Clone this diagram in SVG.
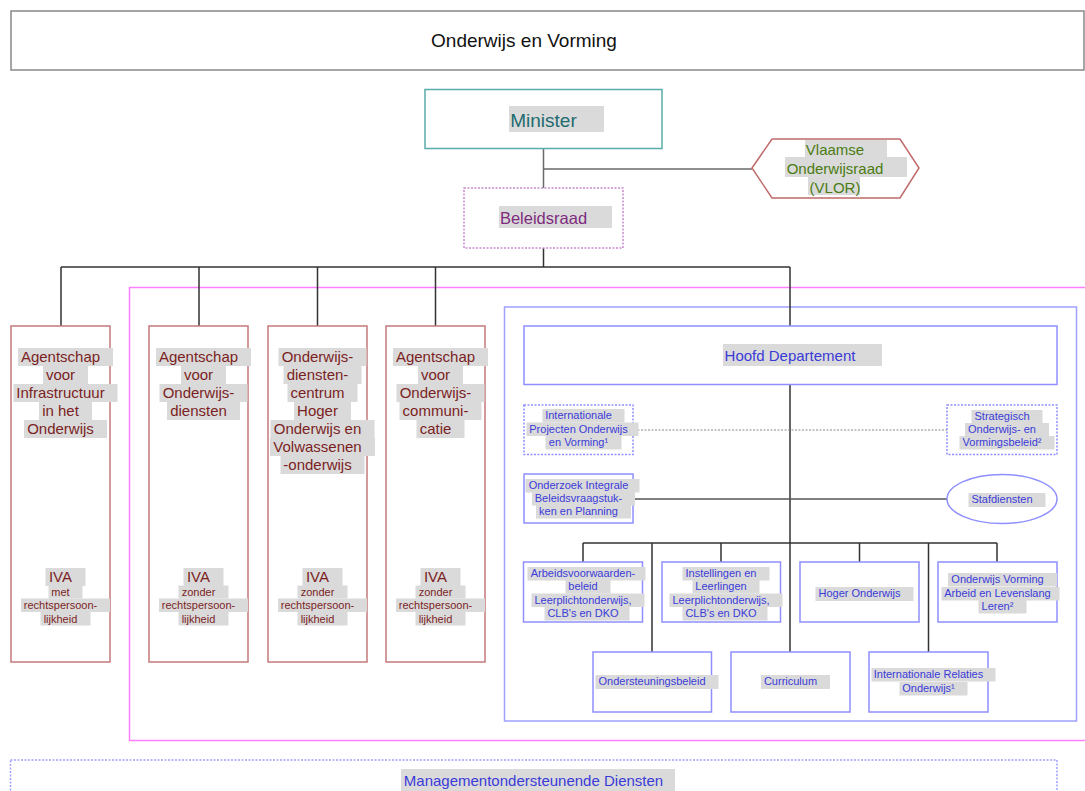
<svg xmlns="http://www.w3.org/2000/svg" width="1085" height="791" viewBox="0 0 1085 791">
<style>
text{font-family:"Liberation Sans",Arial,Helvetica,sans-serif;text-anchor:middle}
.hl{fill:#dadada}
.title{font-size:19px;fill:#111}
.brown{fill:#fff;stroke:#c47a7a;stroke-width:1.5}
.bt{font-size:15px;fill:#7a1f1f}
.bs{font-size:11px;fill:#7a1f1f}
.blue{fill:#fff;stroke:#8f8fff;stroke-width:1.5}
.bluedot{fill:#fff;stroke:#8f8fff;stroke-width:1.5;stroke-dasharray:2 1.5}
.lt{font-size:15px;fill:#3a3ad8}
.st{font-size:11px;fill:#3a3ad8}
.con{fill:none;stroke:#333;stroke-width:1.5}
</style>
<rect width="1085" height="791" fill="#fff"/>

<g id="title">
<rect x="11" y="11" width="1073" height="59" fill="#fff" stroke="#888" stroke-width="1.5"/>
<text class="title" x="524" y="47">Onderwijs en Vorming</text>
</g>

<g id="frames">
<rect x="129.5" y="287.5" width="960" height="453" fill="none" stroke="#ff80ff" stroke-width="1.5"/>
<rect x="504.5" y="307" width="572" height="414" fill="none" stroke="#a0a0ff" stroke-width="1.5"/>
</g>

<g id="connectors">
<path class="con" d="M543.5,149V188M543.5,169H752" stroke="#666" style="stroke:#6a6a6a"/>
<path class="con" d="M543.5,248V267M61,267H790M61,267V326M199,267V326M317.5,267V326M435.5,267V326M790,267V326"/>
<path class="con" d="M790,385V652"/>
<path d="M634,430H947" fill="none" stroke="#888" stroke-width="1.2" stroke-dasharray="2 1.5"/>
<path class="con" d="M634,499H947" style="stroke:#555"/>
<path class="con" d="M583,543H997M583,543V562M652,543V652M721,543V562M859.5,543V562M928.5,543V652M997,543V562"/>
</g>

<g id="minister">
<rect x="425" y="89.5" width="237" height="59" fill="#fff" stroke="#5aabab" stroke-width="1.5"/>
<rect class="hl" x="509" y="106" width="95" height="26"/>
<text x="543.5" y="127" font-size="19" fill="#1e6b6f">Minister</text>
</g>

<g id="vlor">
<polygon points="752,168 772,139 900,139 919,168 900,198 772,198" fill="#fff" stroke="#c06a6a" stroke-width="1.5"/>
<rect class="hl" x="805" y="140" width="82" height="17"/>
<rect class="hl" x="785" y="157" width="122" height="20"/>
<rect class="hl" x="808" y="177" width="52" height="18"/>
<text x="835" y="155" font-size="15" fill="#4a7c12">Vlaamse</text>
<text x="835" y="174" font-size="15" fill="#4a7c12">Onderwijsraad</text>
<text x="835" y="193" font-size="15" fill="#4a7c12">(VLOR)</text>
</g>

<g id="beleidsraad">
<rect x="464" y="188" width="159" height="60" fill="#fff" stroke="#c88ad0" stroke-width="1.5" stroke-dasharray="2 1.5"/>
<rect class="hl" x="499" y="206" width="113" height="22"/>
<text x="543.5" y="224" font-size="16.5" fill="#7e2b7e">Beleidsraad</text>
</g>

<g id="agentschap-infrastructuur">
<rect class="brown" x="11" y="326" width="99" height="336"/>
<rect class="hl" x="18" y="348" width="95" height="18"/>
<rect class="hl" x="43" y="366" width="45" height="18"/>
<rect class="hl" x="13.5" y="384" width="104" height="18"/>
<rect class="hl" x="39" y="402" width="53" height="18"/>
<rect class="hl" x="24" y="420" width="83" height="18"/>
<text class="bt" x="60.5" y="362">Agentschap</text>
<text class="bt" x="60.5" y="380">voor</text>
<text class="bt" x="60.5" y="398">Infrastructuur</text>
<text class="bt" x="60.5" y="416">in het</text>
<text class="bt" x="60.5" y="434">Onderwijs</text>
<rect class="hl" x="45.5" y="568" width="40" height="18"/>
<rect class="hl" x="48.5" y="585.5" width="34" height="13"/>
<rect class="hl" x="21" y="598.5" width="89" height="13.5"/>
<rect class="hl" x="40.5" y="612" width="50" height="13.5"/>
<text class="bt" x="60.5" y="582">IVA</text>
<text class="bs" x="60.5" y="596">met</text>
<text class="bs" x="60.5" y="609">rechtspersoon-</text>
<text class="bs" x="60.5" y="623">lijkheid</text>
</g>

<g id="agentschap-onderwijsdiensten">
<rect class="brown" x="149" y="326" width="99" height="336"/>
<rect class="hl" x="156" y="348" width="95" height="18"/>
<rect class="hl" x="181" y="366" width="45" height="18"/>
<rect class="hl" x="159.5" y="384" width="88" height="18"/>
<rect class="hl" x="167" y="402" width="73" height="18"/>
<text class="bt" x="198.5" y="362">Agentschap</text>
<text class="bt" x="198.5" y="380">voor</text>
<text class="bt" x="198.5" y="398">Onderwijs-</text>
<text class="bt" x="198.5" y="416">diensten</text>
<rect class="hl" x="183.5" y="568" width="40" height="18"/>
<rect class="hl" x="178.5" y="585.5" width="50" height="13"/>
<rect class="hl" x="159" y="598.5" width="89" height="13.5"/>
<rect class="hl" x="178.5" y="612" width="50" height="13.5"/>
<text class="bt" x="198.5" y="582">IVA</text>
<text class="bs" x="198.5" y="596">zonder</text>
<text class="bs" x="198.5" y="609">rechtspersoon-</text>
<text class="bs" x="198.5" y="623">lijkheid</text>
</g>

<g id="onderwijsdienstencentrum">
<rect class="brown" x="268" y="326" width="99" height="336"/>
<rect class="hl" x="278.5" y="348" width="88" height="18"/>
<rect class="hl" x="283.5" y="366" width="78" height="18"/>
<rect class="hl" x="287.5" y="384" width="70" height="18"/>
<rect class="hl" x="294" y="402" width="57" height="18"/>
<rect class="hl" x="270.5" y="420" width="104" height="18"/>
<rect class="hl" x="270" y="438" width="105" height="18"/>
<rect class="hl" x="280.5" y="456" width="84" height="18"/>
<text class="bt" x="317.5" y="362">Onderwijs-</text>
<text class="bt" x="317.5" y="380">diensten-</text>
<text class="bt" x="317.5" y="398">centrum</text>
<text class="bt" x="317.5" y="416">Hoger</text>
<text class="bt" x="317.5" y="434">Onderwijs en</text>
<text class="bt" x="317.5" y="452">Volwassenen</text>
<text class="bt" x="317.5" y="470">-onderwijs</text>
<rect class="hl" x="302.5" y="568" width="40" height="18"/>
<rect class="hl" x="297.5" y="585.5" width="50" height="13"/>
<rect class="hl" x="278" y="598.5" width="89" height="13.5"/>
<rect class="hl" x="297.5" y="612" width="50" height="13.5"/>
<text class="bt" x="317.5" y="582">IVA</text>
<text class="bs" x="317.5" y="596">zonder</text>
<text class="bs" x="317.5" y="609">rechtspersoon-</text>
<text class="bs" x="317.5" y="623">lijkheid</text>
</g>

<g id="agentschap-onderwijscommunicatie">
<rect class="brown" x="386" y="326" width="99" height="336"/>
<rect class="hl" x="393" y="348" width="95" height="18"/>
<rect class="hl" x="418" y="366" width="45" height="18"/>
<rect class="hl" x="396.5" y="384" width="88" height="18"/>
<rect class="hl" x="399.5" y="402" width="82" height="18"/>
<rect class="hl" x="416.5" y="420" width="48" height="18"/>
<text class="bt" x="435.5" y="362">Agentschap</text>
<text class="bt" x="435.5" y="380">voor</text>
<text class="bt" x="435.5" y="398">Onderwijs-</text>
<text class="bt" x="435.5" y="416">communi-</text>
<text class="bt" x="435.5" y="434">catie</text>
<rect class="hl" x="420.5" y="568" width="40" height="18"/>
<rect class="hl" x="415.5" y="585.5" width="50" height="13"/>
<rect class="hl" x="396" y="598.5" width="89" height="13.5"/>
<rect class="hl" x="415.5" y="612" width="50" height="13.5"/>
<text class="bt" x="435.5" y="582">IVA</text>
<text class="bs" x="435.5" y="596">zonder</text>
<text class="bs" x="435.5" y="609">rechtspersoon-</text>
<text class="bs" x="435.5" y="623">lijkheid</text>
</g>

<g id="hoofd-departement">
<rect class="blue" x="524" y="326" width="533" height="58.5"/>
<rect class="hl" x="723" y="344" width="159" height="22"/>
<text class="lt" x="790" y="361">Hoofd Departement</text>
</g>

<g id="internationale-projecten">
<rect class="bluedot" x="524" y="405" width="109" height="49.5"/>
<rect class="hl" x="542.5" y="409" width="82" height="13.5"/>
<rect class="hl" x="526.5" y="422.5" width="112" height="13.5"/>
<rect class="hl" x="545.5" y="436" width="76" height="13.5"/>
<text class="st" x="578.5" y="419">Internationale</text>
<text class="st" x="578.5" y="432.5">Projecten Onderwijs</text>
<text class="st" x="578.5" y="446">en Vorming¹</text>
</g>

<g id="strategisch">
<rect class="bluedot" x="947" y="405" width="110" height="49.5"/>
<rect class="hl" x="971.5" y="410" width="71" height="13.5"/>
<rect class="hl" x="965" y="423" width="84" height="13.5"/>
<rect class="hl" x="959.5" y="436" width="95" height="13.5"/>
<text class="st" x="1002" y="420">Strategisch</text>
<text class="st" x="1002" y="433">Onderwijs- en</text>
<text class="st" x="1002" y="446">Vormingsbeleid²</text>
</g>

<g id="onderzoek">
<rect class="blue" x="524" y="474" width="109" height="49"/>
<rect class="hl" x="525.5" y="479" width="114" height="13.5"/>
<rect class="hl" x="532" y="492" width="103" height="13.5"/>
<rect class="hl" x="536" y="505" width="95" height="13.5"/>
<text class="st" x="578.5" y="489">Onderzoek Integrale</text>
<text class="st" x="578.5" y="502">Beleidsvraagstuk-</text>
<text class="st" x="578.5" y="515">ken en Planning</text>
</g>

<g id="stafdiensten">
<ellipse cx="1002" cy="499" rx="55" ry="24.5" fill="#fff" stroke="#8f8fff" stroke-width="1.5"/>
<rect class="hl" x="968.5" y="493" width="77" height="14"/>
<text class="st" x="1002" y="503">Stafdiensten</text>
</g>

<g id="arbeidsvoorwaarden">
<rect class="blue" x="523.5" y="562" width="119" height="60"/>
<rect class="hl" x="527.5" y="567" width="118" height="13.5"/>
<rect class="hl" x="565.5" y="580" width="45" height="13.5"/>
<rect class="hl" x="531.5" y="593.5" width="113" height="13.5"/>
<rect class="hl" x="544.5" y="607" width="85" height="13.5"/>
<text class="st" x="583" y="577">Arbeidsvoorwaarden-</text>
<text class="st" x="583" y="590">beleid</text>
<text class="st" x="583" y="603.5">Leerplichtonderwijs,</text>
<text class="st" x="583" y="617">CLB's en DKO</text>
</g>

<g id="instellingen">
<rect class="blue" x="662" y="562" width="118.5" height="60"/>
<rect class="hl" x="682.5" y="567" width="87" height="13.5"/>
<rect class="hl" x="692.5" y="580" width="67" height="13.5"/>
<rect class="hl" x="669.5" y="593.5" width="113" height="13.5"/>
<rect class="hl" x="682.5" y="607" width="85" height="13.5"/>
<text class="st" x="721" y="577">Instellingen en</text>
<text class="st" x="721" y="590">Leerlingen</text>
<text class="st" x="721" y="603.5">Leerplichtonderwijs,</text>
<text class="st" x="721" y="617">CLB's en DKO</text>
</g>

<g id="hoger-onderwijs">
<rect class="blue" x="800" y="562" width="119" height="60"/>
<rect class="hl" x="815.5" y="587" width="98" height="14"/>
<text class="st" x="859.5" y="597">Hoger Onderwijs</text>
</g>

<g id="onderwijs-vorming-arbeid">
<rect class="blue" x="938" y="562" width="119" height="60"/>
<rect class="hl" x="948" y="573" width="109" height="13.5"/>
<rect class="hl" x="941.5" y="587" width="118" height="13.5"/>
<rect class="hl" x="978.5" y="600" width="48" height="13.5"/>
<text class="st" x="997.5" y="583">Onderwijs Vorming</text>
<text class="st" x="997.5" y="597">Arbeid en Levenslang</text>
<text class="st" x="997.5" y="610">Leren²</text>
</g>

<g id="ondersteuningsbeleid">
<rect class="blue" x="593" y="652" width="118.5" height="60"/>
<rect class="hl" x="595.5" y="675" width="123" height="14"/>
<text class="st" x="652" y="685">Ondersteuningsbeleid</text>
</g>

<g id="curriculum">
<rect class="blue" x="731" y="652" width="119" height="60"/>
<rect class="hl" x="761" y="675" width="69" height="14"/>
<text class="st" x="790.5" y="685">Curriculum</text>
</g>

<g id="internationale-relaties">
<rect class="blue" x="869" y="652" width="119" height="60"/>
<rect class="hl" x="871.5" y="668" width="124" height="13.5"/>
<rect class="hl" x="899.5" y="682" width="68" height="13.5"/>
<text class="st" x="928.5" y="678">Internationale Relaties</text>
<text class="st" x="928.5" y="692">Onderwijs¹</text>
</g>

<g id="managementondersteunende-diensten">
<rect x="10.5" y="760" width="1046.5" height="45" fill="#fff" stroke="#a0a0ff" stroke-width="1.5" stroke-dasharray="2 1.5"/>
<rect class="hl" x="401" y="769" width="274" height="22"/>
<text class="lt" x="533.5" y="786">Managementondersteunende Diensten</text>
</g>
</svg>
